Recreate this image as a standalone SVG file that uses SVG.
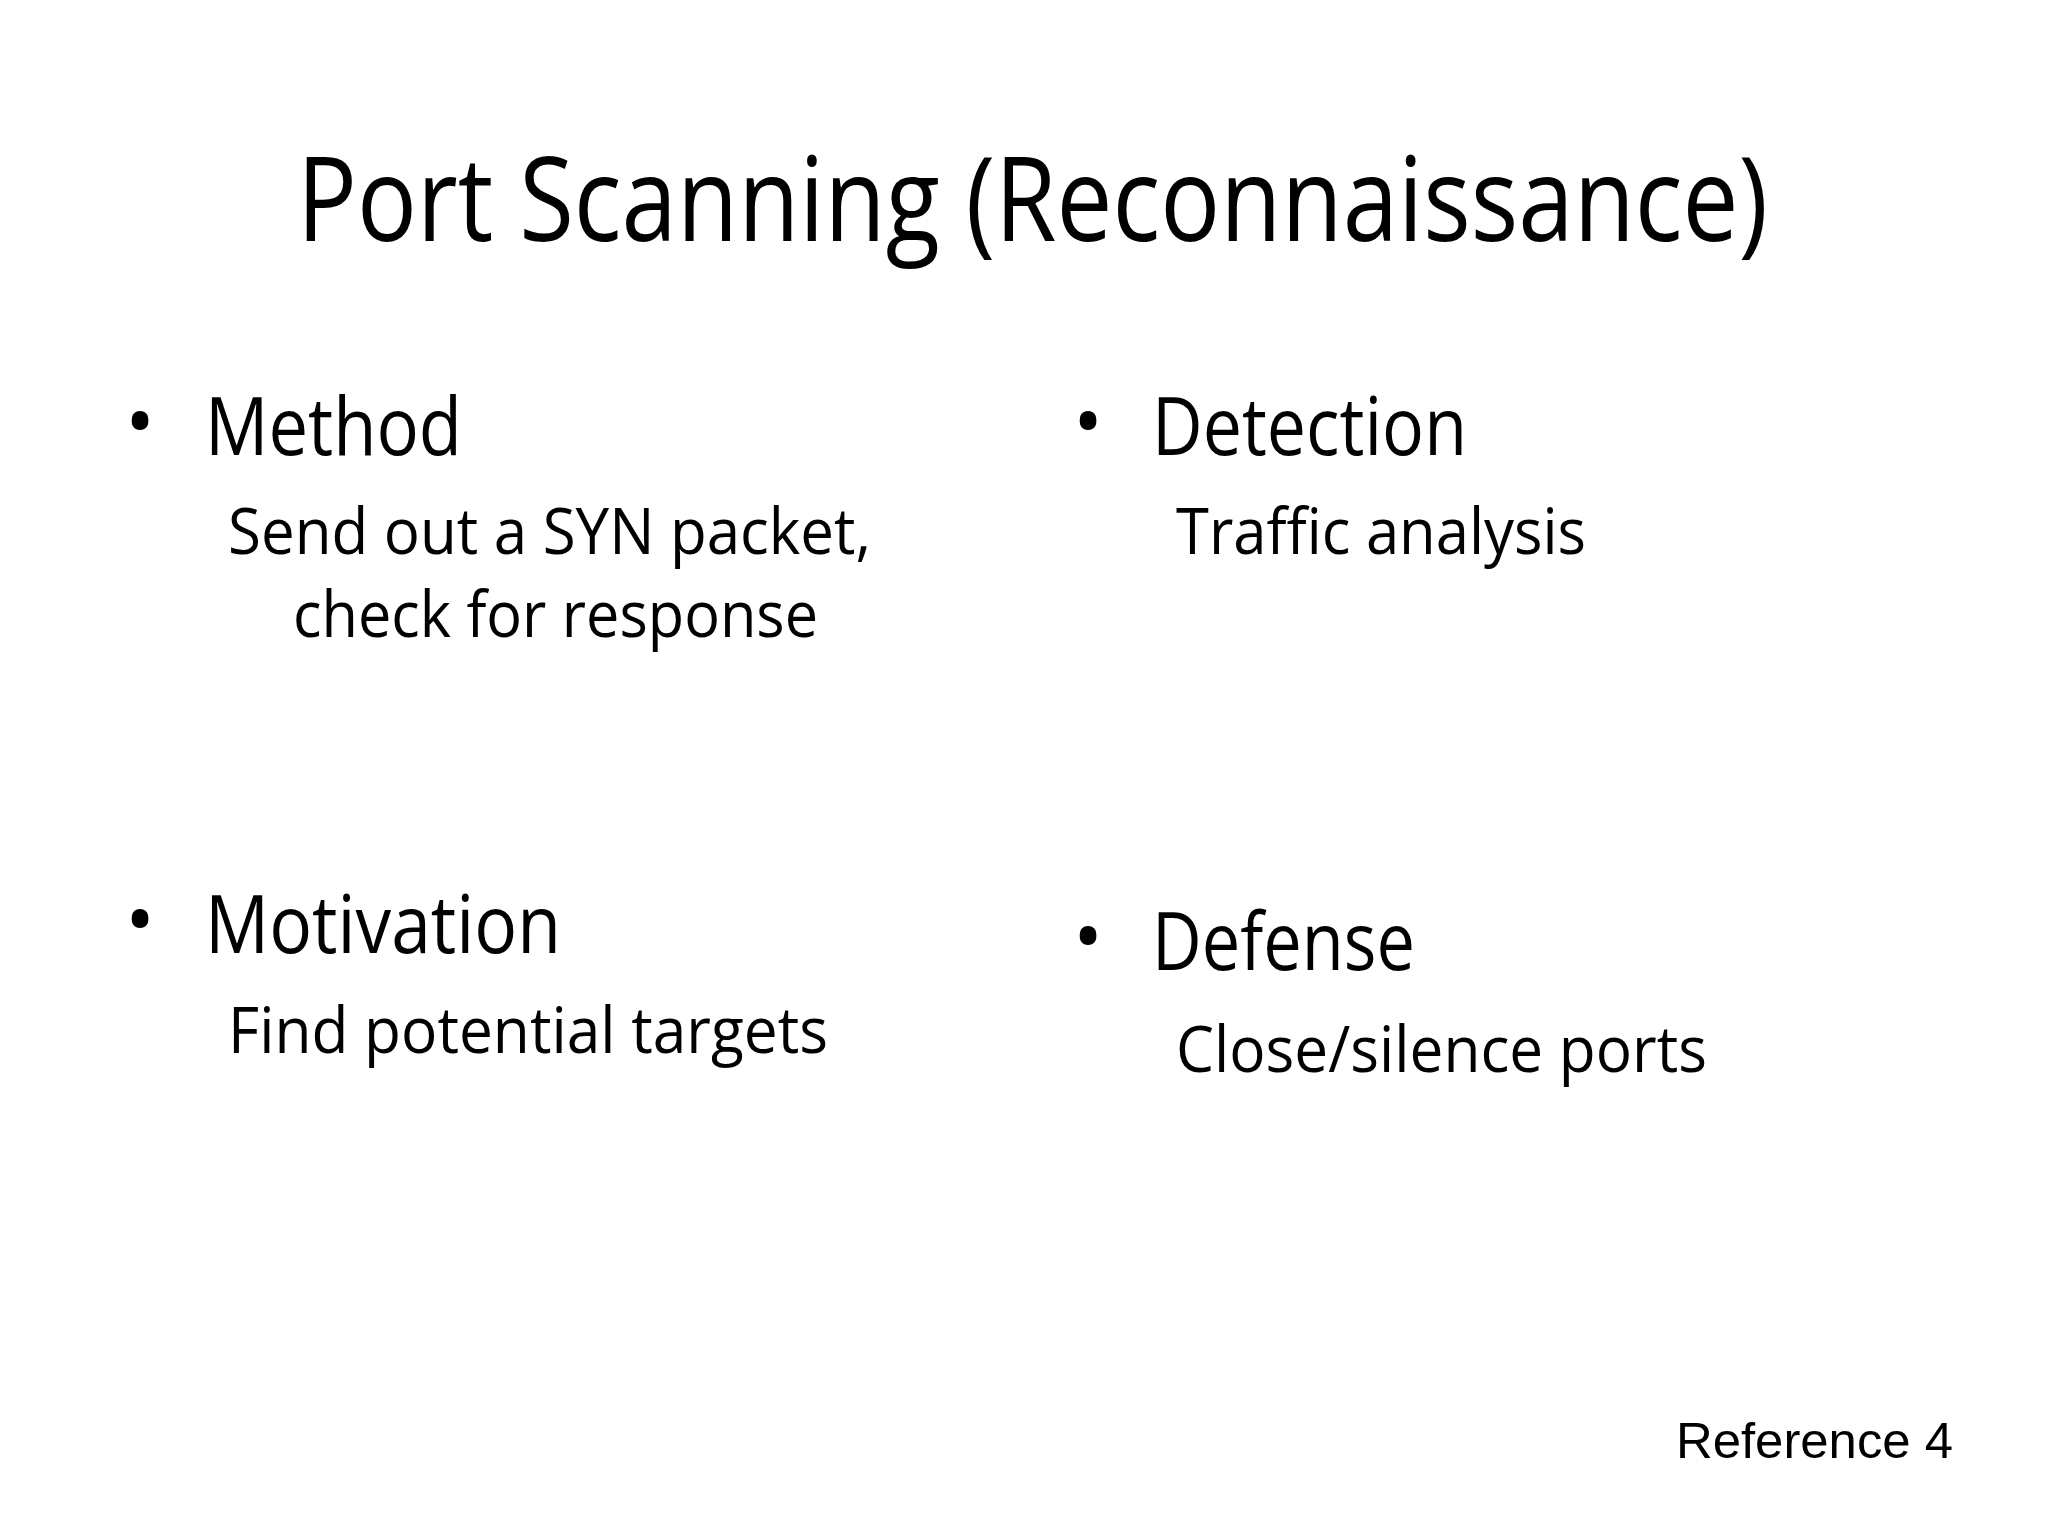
<svg xmlns="http://www.w3.org/2000/svg" width="2048" height="1536" viewBox="0 0 2048 1536">
<style>
text{font-family:"Open Sans","Noto Sans",sans-serif;fill:#000}
.t{font-size:118px}
.h{font-size:80px}
.s{font-size:64px}
.r{font-family:"Liberation Sans",Arial,sans-serif;font-size:50px}
</style>
<rect width="2048" height="1536" fill="#fff"/>
<g id="title"><text class="t" x="297" y="241" textLength="1471" lengthAdjust="spacingAndGlyphs">Port Scanning (Reconnaissance)</text></g>
<g id="method">
<text class="h" x="125" y="450">•</text>
<text class="h" x="205" y="455" textLength="257" lengthAdjust="spacingAndGlyphs">Method</text>
<text class="s" x="228" y="554" textLength="643" lengthAdjust="spacingAndGlyphs">Send out a SYN packet,</text>
<text class="s" x="293" y="637" textLength="525" lengthAdjust="spacingAndGlyphs">check for response</text>
</g>
<g id="motivation">
<text class="h" x="125" y="948">•</text>
<text class="h" x="205" y="953" textLength="356" lengthAdjust="spacingAndGlyphs">Motivation</text>
<text class="s" x="228" y="1053" textLength="600" lengthAdjust="spacingAndGlyphs">Find potential targets</text>
</g>
<g id="detection">
<text class="h" x="1073" y="450">•</text>
<text class="h" x="1152" y="455" textLength="315" lengthAdjust="spacingAndGlyphs">Detection</text>
<text class="s" x="1176" y="554" textLength="410" lengthAdjust="spacingAndGlyphs">Traffic analysis</text>
</g>
<g id="defense">
<text class="h" x="1073" y="965">•</text>
<text class="h" x="1152" y="970" textLength="263" lengthAdjust="spacingAndGlyphs">Defense</text>
<text class="s" x="1176" y="1072" textLength="531" lengthAdjust="spacingAndGlyphs">Close/silence ports</text>
</g>
<g id="ref"><text class="r" x="1676" y="1458" textLength="277" lengthAdjust="spacingAndGlyphs">Reference 4</text></g>
<g id="connectors"/>
</svg>
